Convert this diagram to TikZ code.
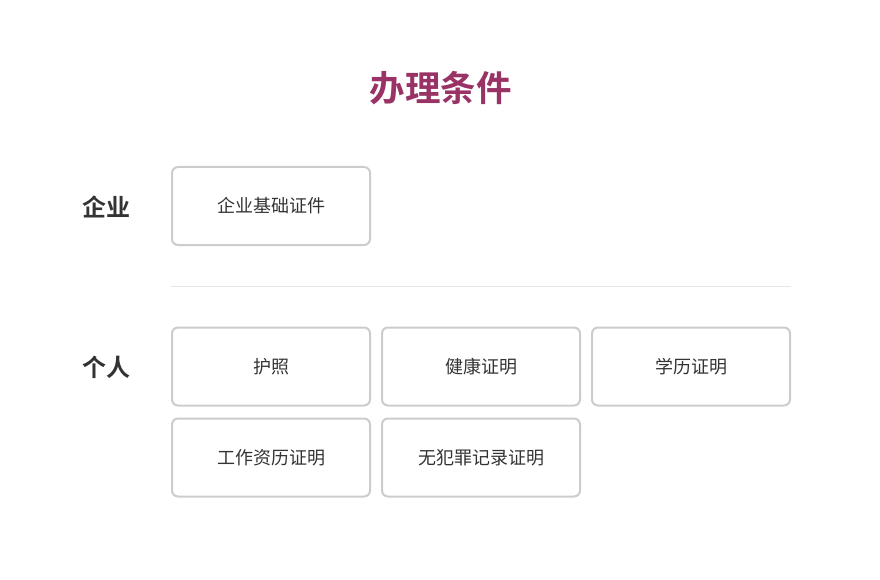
\documentclass[tikz,border=0pt]{standalone}
\usepackage{fontspec}
\newfontfamily\cjk{Noto Sans CJK SC}[BoldFont={Noto Sans CJK SC Bold}]
\definecolor{titlec}{RGB}{153,51,102}
\definecolor{textc}{RGB}{51,51,51}
\definecolor{boxc}{RGB}{204,204,204}
\definecolor{linec}{RGB}{230,230,230}
\begin{document}
\begin{tikzpicture}[x=1pt,y=-1pt,
  itembox/.style={draw=boxc,line width=2pt,rounded corners=6pt,minimum width=198pt,minimum height=78pt,inner sep=0pt,text=textc,font=\cjk\fontsize{18}{20}\selectfont},
  rowlabel/.style={text=textc,inner sep=0pt,font=\cjk\bfseries\fontsize{24}{28}\selectfont},
  titletext/.style={text=titlec,inner sep=0pt,font=\cjk\bfseries\fontsize{35.5}{40}\selectfont}]
\useasboundingbox (0,0) rectangle (880,580);
\node[titletext] (title) at (440.5,88) {办理条件};
\node[rowlabel] (lqy) at (106.5,206.5) {企业};
\node[rowlabel] (lgr) at (106.5,367) {个人};
\node[itembox] (b1) at (271,206) {企业基础证件};
\coordinate (d1) at (171,286.5);
\coordinate (d2) at (791,286.5);
\draw[linec,line width=1pt] (d1) -- (d2);
\node[itembox] (p1) at (271,366.5) {护照};
\node[itembox] (p2) at (481,366.5) {健康证明};
\node[itembox] (p3) at (691,366.5) {学历证明};
\node[itembox] (p4) at (271,457.5) {工作资历证明};
\node[itembox] (p5) at (481,457.5) {无犯罪记录证明};
\end{tikzpicture}
\end{document}
